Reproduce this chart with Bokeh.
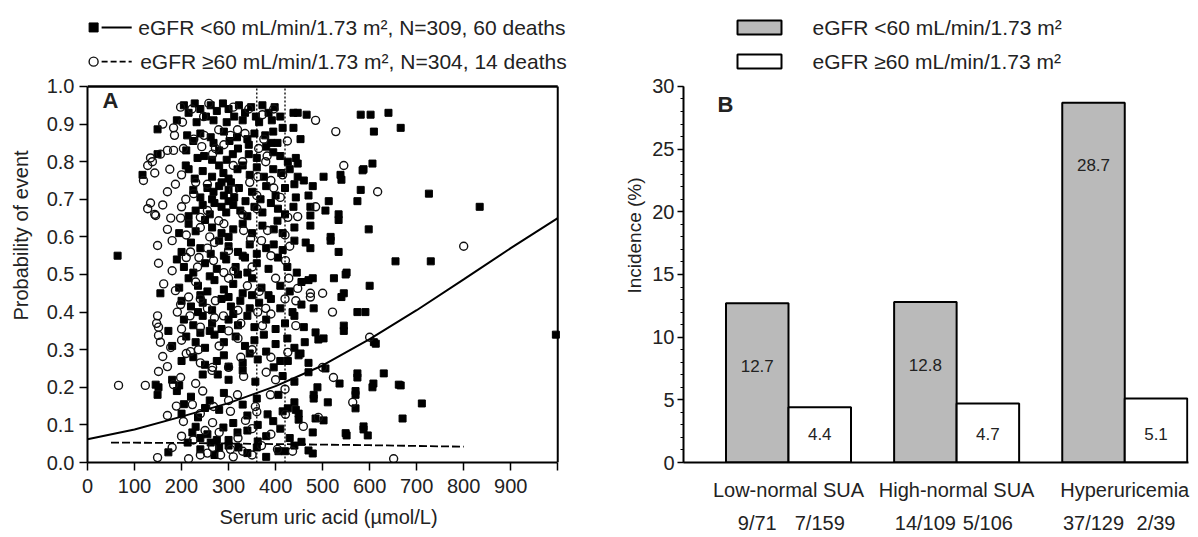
from bokeh.plotting import figure
from bokeh.layouts import row
from bokeh.models import FixedTicker, NumeralTickFormatter, LinearAxis, Range1d
from bokeh.core.properties import value
from bokeh.embed import file_html
from bokeh.resources import INLINE

FONT = "Liberation Sans"
TXT = "#222222"

# ---------------- Panel A data ----------------
# (serum uric acid umol/L, probability of event), eGFR <60 (filled squares)
sq_pts = [
    (205,0.95),(215,0.93),(228,0.955),(240,0.94),(252,0.92),(262,0.95),(275,0.935),(288,0.955),(300,0.94),(312,0.92),
    (322,0.95),(335,0.93),(348,0.945),(358,0.92),(372,0.95),(385,0.93),(398,0.945),(410,0.92),(438,0.93),(447,0.93),
    (466,0.925),(581,0.925),(602,0.925),(640,0.93),(415,0.89),(438,0.89),(149,0.886),(190,0.91),(232,0.905),(268,0.91),
    (296,0.905),(330,0.91),(365,0.905),(392,0.91),
    (453,0.86),(340,0.86),(404,0.85),(609,0.88),(666,0.89),(212,0.87),(240,0.875),(262,0.865),(290,0.88),(318,0.865),
    (355,0.875),(378,0.87),(395,0.88),(225,0.855),(268,0.85),(302,0.855),(343,0.845),(390,0.85),
    (343,0.82),(309,0.82),(234,0.81),(248,0.815),(149,0.82),(426,0.80),(443,0.81),(447,0.795),(280,0.83),(320,0.835),
    (360,0.81),(395,0.825),(265,0.805),(210,0.83),(380,0.84),(296,0.805),(410,0.815),
    (209,0.79),(215,0.78),(117,0.765),(502,0.76),(538,0.765),(540,0.752),(587,0.78),(606,0.795),(585,0.777),(447,0.76),
    (460,0.75),(289,0.77),(319,0.78),(330,0.79),(245,0.775),(265,0.76),(300,0.755),(345,0.765),(360,0.785),(375,0.76),
    (395,0.78),(412,0.77),(228,0.755),(280,0.79),(430,0.78),
    (479,0.735),(470,0.71),(443,0.705),(513,0.695),(574,0.695),(581,0.725),(726,0.715),(368,0.70),(336,0.695),(255,0.73),
    (268,0.72),(280,0.735),(290,0.71),(300,0.725),(312,0.705),(322,0.73),(265,0.70),(285,0.745),(305,0.745),(350,0.72),
    (380,0.735),(400,0.71),(420,0.73),(240,0.705),(225,0.725),(440,0.74),
    (474,0.68),(506,0.67),(438,0.68),(534,0.66),(834,0.68),(270,0.69),(285,0.68),(295,0.665),(310,0.685),(325,0.67),
    (340,0.655),(260,0.66),(355,0.68),(372,0.665),(390,0.69),(405,0.675),(420,0.66),(245,0.685),(230,0.67),(215,0.655),
    (300,0.695),(474,0.657),
    (474,0.63),(534,0.645),(598,0.62),(517,0.60),(404,0.643),(396,0.62),(310,0.62),(285,0.61),(265,0.625),(250,0.645),
    (230,0.615),(330,0.635),(350,0.61),(372,0.63),(415,0.61),(440,0.625),(300,0.60),(215,0.635),(195,0.61),
    (464,0.585),(474,0.57),(534,0.56),(517,0.59),(396,0.58),(64,0.55),(220,0.585),(240,0.57),(262,0.555),(280,0.59),
    (300,0.575),(320,0.56),(345,0.58),(360,0.555),(380,0.57),(415,0.565),(440,0.59),(200,0.56),(290,0.55),(335,0.545),
    (655,0.535),(730,0.535),(549,0.50),(524,0.49),(551,0.505),(470,0.485),(205,0.52),(225,0.505),(250,0.53),(275,0.515),
    (295,0.54),(315,0.52),(340,0.505),(360,0.53),(385,0.515),(405,0.545),(425,0.52),(445,0.505),(190,0.54),(330,0.55),
    (600,0.47),(545,0.45),(540,0.44),(479,0.49),(155,0.45),(195,0.465),(215,0.49),(235,0.47),(255,0.455),(270,0.485),
    (290,0.46),(310,0.475),(330,0.45),(350,0.49),(370,0.465),(385,0.445),(410,0.47),(430,0.455),(455,0.48),(260,0.495),
    (320,0.50),(240,0.445),
    (481,0.41),(436,0.40),(574,0.40),(591,0.40),(200,0.43),(220,0.415),(245,0.425),(265,0.405),(285,0.435),(305,0.415),
    (325,0.43),(345,0.41),(365,0.425),(390,0.435),(410,0.41),(455,0.42),(235,0.40),(300,0.44),(350,0.445),
    (545,0.35),(545,0.364),(485,0.346),(172,0.35),(205,0.38),(225,0.365),(245,0.39),(265,0.37),(285,0.355),(300,0.38),
    (320,0.365),(340,0.39),(355,0.36),(380,0.38),(400,0.355),(420,0.37),(440,0.39),(460,0.36),(260,0.35),(310,0.395),
    (502,0.33),(462,0.32),(613,0.316),(491,0.327),(609,0.32),(996,0.34),(180,0.31),(210,0.335),(230,0.32),(250,0.305),
    (270,0.34),(290,0.32),(315,0.335),(335,0.31),(355,0.325),(375,0.34),(400,0.315),(425,0.33),(440,0.305),(240,0.345),
    (449,0.285),(426,0.27),(506,0.25),(453,0.29),(362,0.274),(396,0.253),(200,0.27),(225,0.28),(250,0.26),(290,0.285),
    (330,0.265),(345,0.29),(380,0.295),(410,0.27),(470,0.265),(300,0.255),(275,0.27),
    (574,0.237),(630,0.237),(536,0.21),(608,0.21),(666,0.205),(489,0.20),(574,0.226),(606,0.20),(662,0.207),(149,0.18),
    (151,0.20),(145,0.207),(245,0.234),(277,0.234),(357,0.215),(180,0.22),(195,0.205),(300,0.22),(330,0.245),(415,0.23),
    (440,0.215),(470,0.24),
    (481,0.17),(511,0.16),(570,0.18),(711,0.157),(481,0.18),(570,0.19),(330,0.154),(406,0.18),(190,0.19),(220,0.175),
    (260,0.165),(290,0.185),(360,0.17),(440,0.16),(205,0.155),
    (570,0.144),(670,0.117),(485,0.117),(502,0.112),(426,0.144),(449,0.13),(383,0.128),(415,0.136),(443,0.14),(449,0.114),
    (362,0.10),(200,0.13),(235,0.12),(280,0.14),(310,0.105),(340,0.125),(250,0.145),(395,0.11),
    (587,0.096),(596,0.072),(551,0.072),(479,0.08),(223,0.08),(213,0.053),(255,0.075),(262,0.053),(289,0.093),(319,0.08),
    (362,0.056),(587,0.088),(549,0.078),(240,0.065),(300,0.06),(340,0.085),(380,0.07),(410,0.09),(430,0.065),(275,0.06),
    (230,0.095),(455,0.055),
    (479,0.024),(172,0.027),(321,0.04),(406,0.03),(470,0.032),(240,0.035),(270,0.02),(300,0.045),(340,0.025),(360,0.04),
    (380,0.015),(420,0.03),(440,0.045),(280,0.04),
]
# eGFR >=60 (open circles)
ci_pts = [
    (198,0.945),(222,0.94),(343,0.94),(396,0.94),(258,0.955),(310,0.945),(160,0.90),(183,0.89),(202,0.905),(279,0.885),
    (319,0.885),(485,0.91),(528,0.88),(247,0.92),(372,0.925),
    (304,0.87),(226,0.86),(375,0.86),(364,0.835),(272,0.835),(248,0.87),(335,0.875),(185,0.87),(425,0.855),
    (170,0.83),(183,0.83),(204,0.835),(134,0.81),(266,0.82),(379,0.80),(382,0.815),(155,0.82),(243,0.84),(330,0.80),
    (290,0.845),(545,0.79),(138,0.80),
    (128,0.79),(119,0.75),(415,0.765),(362,0.76),(310,0.79),(175,0.78),(200,0.765),(390,0.75),(143,0.77),
    (187,0.74),(255,0.74),(311,0.725),(396,0.73),(209,0.70),(226,0.715),(617,0.72),(134,0.69),(128,0.675),(345,0.745),
    (360,0.71),(230,0.745),(410,0.705),(170,0.72),
    (143,0.66),(485,0.68),(447,0.654),(145,0.657),(177,0.65),(240,0.652),(198,0.65),(279,0.643),(426,0.652),(360,0.675),
    (330,0.66),(255,0.67),(160,0.685),(200,0.68),
    (332,0.617),(383,0.617),(347,0.595),(240,0.625),(210,0.605),(170,0.62),(290,0.635),(260,0.60),(420,0.605),
    (149,0.577),(151,0.53),(219,0.56),(255,0.57),(300,0.564),(180,0.59),(270,0.585),(370,0.59),(430,0.575),(800,0.575),
    (237,0.545),
    (234,0.52),(268,0.537),(311,0.51),(421,0.537),(350,0.52),(390,0.55),(180,0.51),(290,0.505),(210,0.545),
    (162,0.475),(187,0.457),(400,0.49),(428,0.49),(447,0.463),(474,0.45),(500,0.45),(215,0.44),(300,0.49),(340,0.47),
    (365,0.455),(230,0.48),
    (443,0.43),(474,0.44),(521,0.40),(379,0.41),(191,0.40),(362,0.40),(198,0.42),(272,0.43),(255,0.41),(320,0.405),
    (420,0.435),(240,0.435),(149,0.39),
    (151,0.36),(147,0.37),(326,0.37),(372,0.364),(443,0.364),(218,0.39),(289,0.39),(270,0.385),(390,0.395),(200,0.355),
    (240,0.36),(300,0.35),
    (151,0.338),(177,0.306),(236,0.30),(219,0.295),(600,0.333),(426,0.293),(280,0.31),(350,0.30),(200,0.325),(320,0.33),
    (155,0.32),
    (160,0.282),(170,0.255),(266,0.253),(300,0.253),(326,0.28),(500,0.253),(210,0.29),(240,0.265),(390,0.28),
    (66,0.205),(123,0.205),(198,0.226),(183,0.207),(332,0.229),(523,0.226),(151,0.242),(230,0.21),(265,0.245),(380,0.24),
    (400,0.22),
    (189,0.15),(223,0.154),(268,0.149),(319,0.18),(389,0.18),(357,0.149),(564,0.16),(245,0.19),(300,0.165),(420,0.195),
    (170,0.125),(204,0.109),(266,0.106),(304,0.136),(336,0.112),(421,0.128),(491,0.12),(360,0.135),(240,0.13),
    (459,0.096),(200,0.07),(250,0.085),(320,0.065),(390,0.075),(280,0.08),(350,0.09),(225,0.06),
    (149,0.013),(266,0.04),(283,0.02),(304,0.035),(330,0.03),(404,0.035),(436,0.03),(651,0.01),(240,0.02),(255,0.025),
    (310,0.015),(350,0.02),(180,0.04),(370,0.045),(215,0.01),
]
# fitted curves
fit_lt60_x = [0, 100, 200, 300, 400, 500, 600, 700, 800, 900, 1000]
fit_lt60_y = [0.062, 0.088, 0.122, 0.158, 0.203, 0.258, 0.328, 0.405, 0.487, 0.570, 0.650]
fit_ge60_x = [50, 200, 400, 600, 800]
fit_ge60_y = [0.053, 0.052, 0.049, 0.046, 0.042]
cutoffs = [360, 420]
xticks_A = [0, 100, 200, 300, 400, 500, 600, 700, 800, 900, 1000]
yticks_A = [0.0, 0.1, 0.2, 0.3, 0.4, 0.5, 0.6, 0.7, 0.8, 0.9, 1.0]

# ---------------- Panel B data ----------------
groups = ["Low-normal SUA", "High-normal SUA", "Hyperuricemia"]
inc_lt60 = [12.7, 12.8, 28.7]
inc_ge60 = [4.4, 4.7, 5.1]
frac_lt60 = ["9/71", "14/109", "37/129"]
frac_ge60 = ["7/159", "5/106", "2/39"]
yticks_B = [0, 5, 10, 15, 20, 25, 30]

lab_lt60 = "eGFR <60 mL/min/1.73 m\u00b2"
lab_ge60 = "eGFR \u226560 mL/min/1.73 m\u00b2"

TICK_FS = "20px"
LABEL_FS = "20px"
LEG_FS = "21px"

# ================= Panel A =================
sq_x = [p[0] for p in sq_pts]; sq_y = [p[1] for p in sq_pts]
ci_x = [p[0] for p in ci_pts]; ci_y = [p[1] for p in ci_pts]

pA = figure(width=578, height=537, x_range=Range1d(0, 1025), y_range=Range1d(0, 1.2074),
            output_backend="svg", toolbar_location=None,
            min_border_left=87, min_border_right=9, min_border_top=8, min_border_bottom=75)
pA.grid.visible = False
pA.outline_line_color = None

pA.scatter(sq_x, sq_y, marker="square", size=7, fill_color="black", line_color="black")
pA.scatter(ci_x, ci_y, marker="circle", size=8, fill_color=None, line_color="#111111", line_width=1.4)
pA.line(fit_lt60_x, fit_lt60_y, line_color="black", line_width=2)
pA.line(fit_ge60_x, fit_ge60_y, line_color="black", line_width=1.8, line_dash="8 3")
pA.segment(x0=cutoffs, y0=[0] * len(cutoffs), x1=cutoffs, y1=[1.0] * len(cutoffs),
           line_color="black", line_width=1.3, line_dash="2 2")
# top and right border of the plotting box
pA.segment(x0=[0], y0=[1.0], x1=[1000], y1=[1.0], line_color="black", line_width=2.6)
pA.segment(x0=[1000], y0=[0], x1=[1000], y1=[1.0], line_color="black", line_width=2)
pA.text(x=[49], y=[0.963], text=["A"], text_font=value(FONT), text_font_style="bold",
        text_font_size="22px", text_align="center", text_baseline="middle", text_color=TXT)

for ax in (pA.xaxis[0], pA.yaxis[0]):
    ax.axis_line_width = 2
    ax.axis_line_color = "black"
    ax.major_tick_line_width = 1.5
    ax.major_tick_out = 8
    ax.major_tick_in = 0
    ax.minor_tick_line_color = None
    ax.major_label_text_font = FONT
    ax.major_label_text_font_size = TICK_FS
    ax.major_label_text_color = TXT
    ax.axis_label_text_font = FONT
    ax.axis_label_text_font_size = LABEL_FS
    ax.axis_label_text_font_style = "normal"
    ax.axis_label_text_color = TXT

pA.xaxis[0].ticker = FixedTicker(ticks=xticks_A)
pA.xaxis[0].major_label_overrides = {1000: ""}
pA.xaxis[0].bounds = (0, 1000)
pA.xaxis[0].major_label_standoff = 8
pA.xaxis[0].axis_label = "Serum uric acid (\u00b5mol/L)"
pA.xaxis[0].axis_label_standoff = 10
pA.yaxis[0].ticker = FixedTicker(ticks=yticks_A)
pA.yaxis[0].bounds = (0, 1.0)
pA.yaxis[0].formatter = NumeralTickFormatter(format="0.0")
pA.yaxis[0].major_label_standoff = 5
pA.yaxis[0].axis_label = "Probability of event"
pA.yaxis[0].axis_label_standoff = 12

# legend of panel A (above the plotting box)
legA_y = [1.157, 1.066]
pA.scatter([13], [legA_y[0]], marker="square", size=9, fill_color="black", line_color="black")
pA.scatter([13], [legA_y[1]], marker="circle", size=9, fill_color=None, line_color="#111111", line_width=1.4)
pA.line([30, 94], [legA_y[0]] * 2, line_color="black", line_width=2)
pA.line([30, 94], [legA_y[1]] * 2, line_color="black", line_width=1.8, line_dash="6 3")
pA.text(x=[108, 112], y=legA_y,
        text=[lab_lt60 + ", N=309, 60 deaths", lab_ge60 + ", N=304, 14 deaths"],
        text_font=value(FONT), text_font_size=LEG_FS, text_baseline="middle", text_color=TXT)

# ================= Panel B =================
group_pos = [1.68, 4.37, 7.06]
x_lt60 = [g - 0.5 for g in group_pos]
x_ge60 = [g + 0.5 for g in group_pos]

pB = figure(width=620, height=537, x_range=Range1d(0, 8.08), y_range=Range1d(0, 36.22),
            output_backend="svg", toolbar_location=None,
            min_border_left=105, min_border_right=10, min_border_top=8, min_border_bottom=75)
pB.grid.visible = False
pB.outline_line_color = None

pB.vbar(x=x_lt60, top=inc_lt60, width=1.0, bottom=0, fill_color="#bababa", line_color="black", line_width=2)
pB.vbar(x=x_ge60, top=inc_ge60, width=1.0, bottom=0, fill_color="white", line_color="black", line_width=2)
pB.text(x=x_lt60, y=[v - 5 for v in inc_lt60], text=[f"{v:.1f}" for v in inc_lt60],
        text_font=value(FONT), text_font_size="17px", text_align="center", text_baseline="middle", text_color=TXT)
pB.text(x=x_ge60, y=[2.3] * len(inc_ge60), text=[f"{v:.1f}" for v in inc_ge60],
        text_font=value(FONT), text_font_size="17px", text_align="center", text_baseline="middle", text_color=TXT)
pB.text(x=[0.67], y=[28.6], text=["B"], text_font=value(FONT), text_font_style="bold",
        text_font_size="22px", text_align="center", text_baseline="middle", text_color=TXT)

# legend of panel B (above the bars)
legB_y = [34.71, 32.0]
pB.rect(x=[1.216, 1.216], y=legB_y, width=0.704, height=1.117, fill_color=["#bababa", "white"],
        line_color="black", line_width=2)
pB.text(x=[2.064, 2.064], y=legB_y, text=[lab_lt60, lab_ge60],
        text_font=value(FONT), text_font_size=LEG_FS, text_baseline="middle", text_color=TXT)

yb = pB.yaxis[0]
yb.ticker = FixedTicker(ticks=yticks_B, minor_ticks=list(range(0, 31)))
yb.bounds = (0, 30)
yb.axis_line_width = 2
yb.major_tick_out = 6
yb.major_tick_in = 0
yb.major_tick_line_width = 1.5
yb.minor_tick_out = 3
yb.minor_tick_in = 0
yb.minor_tick_line_width = 1
yb.major_label_standoff = 3
yb.major_label_text_font = FONT
yb.major_label_text_font_size = TICK_FS
yb.major_label_text_color = TXT
yb.axis_label = "Incidence (%)"
yb.axis_label_text_font = FONT
yb.axis_label_text_font_size = "19px"
yb.axis_label_text_font_style = "normal"
yb.axis_label_text_color = TXT
yb.axis_label_standoff = 4

xb = pB.xaxis[0]
xb.ticker = FixedTicker(ticks=group_pos)
xb.major_label_overrides = {g: n for g, n in zip(group_pos, groups)}
xb.axis_line_width = 2
xb.major_tick_out = 0
xb.major_tick_in = 0
xb.minor_tick_out = 0
xb.minor_tick_in = 0
xb.major_tick_line_color = None
xb.minor_tick_line_color = None
xb.major_label_standoff = 16
xb.major_label_text_font = FONT
xb.major_label_text_font_size = TICK_FS
xb.major_label_text_color = TXT

bar_pos = x_lt60 + x_ge60
bar_frac = frac_lt60 + frac_ge60
xb2 = LinearAxis(ticker=FixedTicker(ticks=bar_pos),
                 major_label_overrides={b: f for b, f in zip(bar_pos, bar_frac)},
                 axis_line_color=None, major_tick_line_color=None, minor_tick_line_color=None,
                 major_tick_out=0, major_tick_in=0, minor_tick_out=0, minor_tick_in=0,
                 major_label_standoff=8, major_label_text_font=FONT,
                 major_label_text_font_size=TICK_FS, major_label_text_color=TXT)
pB.add_layout(xb2, "below")

layout = row(pA, pB)
open("out.html", "w").write(file_html(layout, INLINE))
